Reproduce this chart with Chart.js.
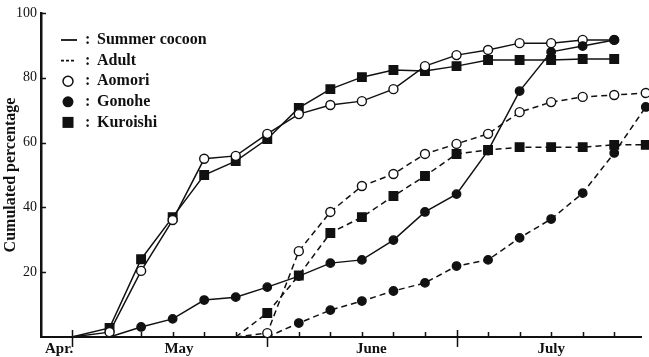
<!DOCTYPE html>
<html>
<head>
<meta charset="utf-8">
<title>Cumulated percentage</title>
<script src="https://cdn.jsdelivr.net/npm/chart.js@4.4.1/dist/chart.umd.min.js"></script>
<style>
  html, body { margin: 0; padding: 0; background: #fff; }
  #wrap { width: 649px; height: 357px; }
</style>
</head>
<body>
<div id="wrap"><canvas id="chart" width="649" height="357"></canvas></div>
<script>
// Survey days, counted from May 1 (day 0)
const surveyDays = [0, 6, 11, 16, 21, 26, 31, 36, 41, 46, 51, 56, 61, 66, 71, 76, 81, 86, 91];

// Cumulated percentage per survey day (null = no point)
const summerAomori   = [0, 1.5, 20.4, 36.1, 55.0, 55.9, 62.7, 68.8, 71.6, 72.8, 76.5, 83.6, 87.0, 88.6, 90.7, 90.7, 91.7, 91.7, null];
const summerGonohe   = [null, 0, 3.1, 5.6, 11.4, 12.3, 15.4, 18.8, 22.8, 23.8, 29.9, 38.6, 44.1, 57.5, 75.9, 88.0, 89.8, 91.7, null];
const summerKuroishi = [0, 2.8, 24.0, 37.0, 50.0, 54.3, 61.1, 70.7, 76.5, 80.2, 82.4, 82.1, 83.6, 85.5, 85.5, 85.5, 85.8, 85.8, null];
const adultAomori    = [null, null, null, null, null, 0, 1.2, 26.5, 38.6, 46.6, 50.3, 56.5, 59.6, 62.7, 69.4, 72.5, 74.1, 74.7, 75.3];
const adultGonohe    = [null, null, null, null, null, null, 0, 4.3, 8.3, 11.1, 14.2, 16.7, 21.9, 23.8, 30.6, 36.4, 44.4, 56.8, 71.0];
const adultKuroishi  = [null, null, null, null, null, 0, 7.4, 19.0, 32.1, 37.0, 43.5, 49.7, 56.5, 57.7, 58.6, 58.6, 58.6, 59.3, 59.3];

// Axis labels
const monthLabels = ['Apr.', 'May', 'June', 'July'];
const monthLabelDays = [-2, 17, 47.5, 76];
const monthStartDays = [0, 31, 61];
const yTicks = [0, 20, 40, 60, 80, 100];
const legendLabels = ['Summer cocoon', 'Adult', 'Aomori', 'Gonohe', 'Kuroishi'];

const ink = '#111';
const serif = "'Liberation Serif', 'DejaVu Serif', serif";

const toPoints = (values) => surveyDays.map((d, i) => ({ x: d, y: values[i] }));

// zero starting points carry no marker
const markerSize = (r) => (ctx) => {
  const p = ctx.raw;
  if (!p || p.y === null || p.y === 0) return 0;
  return r;
};

const makeSet = (label, values, style, fill, dashed, r) => ({
  label,
  data: toPoints(values),
  borderColor: ink,
  borderWidth: 1.5,
  borderDash: dashed ? [6, 4] : [],
  tension: 0,
  spanGaps: false,
  clip: false,
  pointStyle: style,
  pointRadius: markerSize(r),
  pointBorderWidth: 1.4,
  pointBorderColor: ink,
  pointBackgroundColor: fill,
  pointHoverRadius: markerSize(r)
});

// inward tick marks on both axes, longer ones at month starts
const axisTicks = {
  id: 'axisTicks',
  beforeDatasetsDraw(chart) {
    const { ctx, chartArea: a, scales: { x, y } } = chart;
    ctx.save();
    ctx.strokeStyle = ink;
    ctx.lineWidth = 1.5;
    ctx.beginPath();
    surveyDays.slice(0, -1).forEach(d => {
      const px = Math.round(x.getPixelForValue(d)) + 0.5;
      ctx.moveTo(px, a.bottom - 5);
      ctx.lineTo(px, a.bottom);
    });
    monthStartDays.forEach(d => {
      const px = Math.round(x.getPixelForValue(d)) + 0.5;
      ctx.moveTo(px, a.bottom - 7);
      ctx.lineTo(px, a.bottom + 10);
    });
    yTicks.slice(1).forEach(v => {
      const py = Math.round(y.getPixelForValue(v)) + 0.5;
      ctx.moveTo(a.left, py);
      ctx.lineTo(a.left + 5, py);
    });
    ctx.stroke();
    ctx.restore();
  }
};

// legend in the upper left corner of the plot
const cornerLegend = {
  id: 'cornerLegend',
  afterDraw(chart) {
    const { ctx, chartArea: a } = chart;
    const cx = a.left + 27;
    ctx.save();
    ctx.strokeStyle = ink;
    ctx.fillStyle = ink;
    ctx.font = 'bold 16px ' + serif;
    ctx.textBaseline = 'middle';
    legendLabels.forEach((text, i) => {
      const y = a.top + 27 + i * 20.6;
      ctx.lineWidth = 1.8;
      ctx.setLineDash([]);
      if (i === 0) {
        ctx.beginPath(); ctx.moveTo(cx - 7, y); ctx.lineTo(cx + 9, y); ctx.stroke();
      } else if (i === 1) {
        ctx.setLineDash([3, 2]);
        ctx.beginPath(); ctx.moveTo(cx - 7, y); ctx.lineTo(cx + 7, y); ctx.stroke();
        ctx.setLineDash([]);
      } else if (i === 2) {
        ctx.lineWidth = 1.5;
        ctx.beginPath(); ctx.arc(cx, y, 5, 0, Math.PI * 2); ctx.stroke();
      } else if (i === 3) {
        ctx.beginPath(); ctx.arc(cx, y, 5.5, 0, Math.PI * 2); ctx.fill();
      } else {
        ctx.fillRect(cx - 5.5, y - 5.5, 11, 11);
      }
      ctx.fillText(':', a.left + 44, y);
      ctx.fillText(text, a.left + 56, y);
    });
    ctx.restore();
  }
};

new Chart(document.getElementById('chart'), {
  type: 'line',
  data: {
    datasets: [
      makeSet('Summer cocoon Gonohe', summerGonohe, 'circle', ink, false, 4.2),
      makeSet('Summer cocoon Aomori', summerAomori, 'circle', '#fff', false, 4.5),
      makeSet('Summer cocoon Kuroishi', summerKuroishi, 'rect', ink, false, 6),
      makeSet('Adult Aomori', adultAomori, 'circle', '#fff', true, 4.5),
      makeSet('Adult Kuroishi', adultKuroishi, 'rect', ink, true, 6),
      makeSet('Adult Gonohe', adultGonohe, 'circle', ink, true, 4.2)
    ]
  },
  options: {
    responsive: false,
    animation: false,
    events: [],
    layout: { padding: { top: 13, right: 0, bottom: 0, left: 0 } },
    plugins: {
      legend: { display: false },
      tooltip: { enabled: false }
    },
    scales: {
      x: {
        type: 'linear',
        min: -4.87,
        max: 90.34,
        afterFit: (s) => { s.height = 20; },
        afterBuildTicks: (s) => { s.ticks = monthLabelDays.map(v => ({ value: v })); },
        border: { display: true, color: ink, width: 2 },
        grid: { display: false, drawTicks: false },
        ticks: {
          autoSkip: false,
          maxRotation: 0,
          padding: 3,
          color: ink,
          font: { family: serif, size: 15, weight: 'bold' },
          callback: (v, i) => monthLabels[i]
        }
      },
      y: {
        min: 0,
        max: 100,
        afterFit: (s) => { s.width = 41; },
        afterBuildTicks: (s) => { s.ticks = yTicks.map(v => ({ value: v })); },
        border: { display: true, color: ink, width: 2.5 },
        grid: { display: false, drawTicks: false },
        ticks: {
          padding: 4,
          color: ink,
          font: { family: serif, size: 14 },
          callback: (v) => (v === 0 ? '' : v)
        },
        title: {
          display: true,
          text: 'Cumulated percentage',
          color: ink,
          font: { family: serif, size: 16, weight: 'bold' },
          padding: { top: 1, bottom: 0 }
        }
      }
    }
  },
  plugins: [axisTicks, cornerLegend]
});
</script>
</body>
</html>
